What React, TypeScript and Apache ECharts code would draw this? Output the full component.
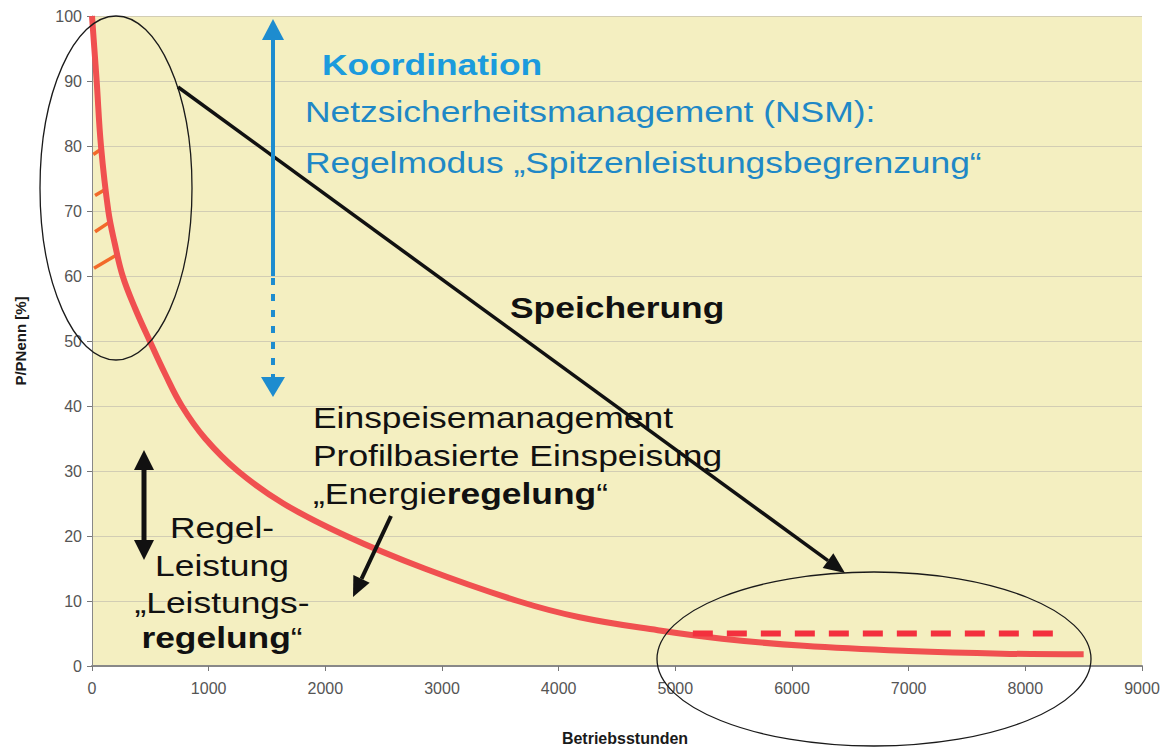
import React, { useEffect, useRef } from 'react';
import * as echarts from 'echarts';

// ---- data ----
const hours = [0, 20, 40, 77, 140, 195, 263, 370, 495, 625, 770, 970, 1250, 1640, 2180, 2850, 3650, 4180, 4850, 5400, 6100, 7000, 7800, 8500];
const share = [100, 95, 90, 80, 70, 65, 60, 55, 50, 45, 40, 35, 30, 25, 20, 15, 10, 7.5, 5.5, 4.2, 3.1, 2.3, 1.9, 1.8];
const dashedHours = [5150, 8330];
const dashedShare = [5, 5];
// short orange marks between the y axis and the curve (start, end)
const markHoursStart = [11, 26, 26, 17];
const markShareStart = [78.7, 72.4, 66.8, 61.2];
const markHoursEnd = [77, 131, 160, 217];
const markShareEnd = [79.5, 73.5, 68.4, 63.3];
const xMin = 0, xMax = 9000, xStep = 1000;
const yMin = 0, yMax = 100, yStep = 10;
const xName = 'Betriebsstunden';
const yName = 'P/PNenn [%]';

const FONT = "'Liberation Sans', Arial, Helvetica, sans-serif";
const SX = 1.18;

function arrowHead(fx: number, fy: number, tx: number, ty: number, len: number, hw: number) {
  const dx = tx - fx, dy = ty - fy;
  const l = Math.sqrt(dx * dx + dy * dy);
  const ux = dx / l, uy = dy / l;
  const nx = -uy, ny = ux;
  const bx = tx - ux * len, by = ty - uy * len;
  return {
    base: [bx, by],
    points: [[tx, ty], [bx + nx * hw, by + ny * hw], [bx - nx * hw, by - ny * hw]],
  };
}

function arrow(fx: number, fy: number, tx: number, ty: number, lw: number, len: number, hw: number, color: string) {
  const h = arrowHead(fx, fy, tx, ty, len, hw);
  return [
    { type: 'line', z: 100, shape: { x1: fx, y1: fy, x2: h.base[0], y2: h.base[1] }, style: { stroke: color, lineWidth: lw } },
    { type: 'polygon', z: 100, shape: { points: h.points }, style: { fill: color } },
  ];
}

function txt(x: number, y: number, text: string, opts: any = {}) {
  return {
    type: 'text',
    z: 100,
    x,
    y,
    scaleX: SX,
    style: {
      text,
      fontSize: 30,
      fontFamily: FONT,
      fontWeight: opts.bold ? 'bold' : 'normal',
      fill: opts.color || '#111',
      align: opts.align || 'left',
      textAlign: opts.align || 'left',
      verticalAlign: 'middle',
      textVerticalAlign: 'middle',
      rich: opts.rich,
    },
  };
}

export default function App() {
  const ref = useRef<HTMLDivElement>(null);
  useEffect(() => {
    document.body.style.margin = '0';
    if (!ref.current) return;
    const chart = echarts.init(ref.current, undefined, { renderer: 'svg' });

    const curve = hours.map((h, i) => [h, share[i]]);
    const dashed = dashedHours.map((h, i) => [h, dashedShare[i]]);
    const markSeries = markHoursStart.map((h, i) => ({
      type: 'line',
      data: [[h, markShareStart[i]], [markHoursEnd[i], markShareEnd[i]]],
      symbol: 'none',
      lineStyle: { color: '#f26a2a', width: 3.5 },
      z: 3,
    }));

    const rich = {
      n: { fontSize: 30, fontFamily: FONT, fill: '#111', fontWeight: 'normal' },
      b: { fontSize: 30, fontFamily: FONT, fill: '#111', fontWeight: 'bold' },
    };

    const blue = '#1d8ccf';
    const graphic: any[] = [
      { type: 'ellipse', z: 100, shape: { cx: 116, cy: 188, rx: 76, ry: 172 }, style: { fill: 'none', stroke: '#1a1a1a', lineWidth: 1.3 } },
      { type: 'ellipse', z: 100, shape: { cx: 874, cy: 659, rx: 217, ry: 87 }, style: { fill: 'none', stroke: '#1a1a1a', lineWidth: 1.3 } },
      ...arrow(178, 87, 845, 573, 3.5, 21, 9, '#111'),
      ...arrow(391, 516, 353, 597, 4, 20, 9, '#111'),
      // double arrow
      { type: 'line', z: 100, shape: { x1: 144, y1: 468, x2: 144, y2: 542 }, style: { stroke: '#111', lineWidth: 5 } },
      { type: 'polygon', z: 100, shape: { points: [[144, 450], [134, 470], [154, 470]] }, style: { fill: '#111' } },
      { type: 'polygon', z: 100, shape: { points: [[144, 560], [134, 540], [154, 540]] }, style: { fill: '#111' } },
      // blue arrow
      { type: 'line', z: 100, shape: { x1: 273, y1: 38, x2: 273, y2: 276 }, style: { stroke: blue, lineWidth: 4 } },
      { type: 'line', z: 100, shape: { x1: 273, y1: 278, x2: 273, y2: 378 }, style: { stroke: blue, lineWidth: 4, lineDash: [7, 9] } },
      { type: 'polygon', z: 100, shape: { points: [[273, 19], [262, 40], [284, 40]] }, style: { fill: blue } },
      { type: 'polygon', z: 100, shape: { points: [[273, 397], [261, 377], [285, 377]] }, style: { fill: blue } },
      // texts
      txt(322, 64.5, 'Koordination', { bold: true, color: '#1b9bdd' }),
      txt(305, 111.5, 'Netzsicherheitsmanagement (NSM):', { color: '#1f88c6' }),
      txt(305, 162.5, 'Regelmodus „Spitzenleistungsbegrenzung“', { color: '#1f88c6' }),
      txt(510, 307, 'Speicherung', { bold: true }),
      txt(313, 417.5, 'Einspeisemanagement'),
      txt(313, 455.5, 'Profilbasierte Einspeisung'),
      txt(313, 493.5, '{n|„Energie}{b|regelung}{n|“}', { rich }),
      txt(222, 527.5, 'Regel-', { align: 'center' }),
      txt(222, 565.5, 'Leistung', { align: 'center' }),
      txt(222, 602.5, '„Leistungs-', { align: 'center' }),
      txt(222, 637.5, '{b|regelung}{n|“}', { align: 'center', rich }),
    ];

    chart.setOption({
      animation: false,
      grid: {
        left: 92, right: 31, top: 16, bottom: 81,
        show: true, backgroundColor: '#f4efc1', borderWidth: 0,
      },
      xAxis: {
        type: 'value', min: xMin, max: xMax, interval: xStep,
        name: xName, nameLocation: 'middle', nameGap: 64,
        nameTextStyle: { fontFamily: FONT, fontSize: 16, fontWeight: 'bold', color: '#1a1a1a', padding: [0, 0, 0, 16] },
        axisLine: { lineStyle: { color: '#888', width: 2 } },
        axisTick: { show: true, length: 5, lineStyle: { color: '#777' } },
        axisLabel: { fontFamily: FONT, fontSize: 16, color: '#555', margin: 14, formatter: (v: number) => String(v) },
        splitLine: { show: false },
      },
      yAxis: {
        type: 'value', min: yMin, max: yMax, interval: yStep,
        name: yName, nameLocation: 'middle', nameGap: 64, nameRotate: 90,
        nameTextStyle: { fontFamily: FONT, fontSize: 15, fontWeight: 'bold', color: '#1a1a1a' },
        axisLine: { show: true, lineStyle: { color: '#888', width: 1 } },
        axisTick: { show: true, length: 5, lineStyle: { color: '#777' } },
        axisLabel: { fontFamily: FONT, fontSize: 16, color: '#555', margin: 10, formatter: (v: number) => String(v) },
        splitLine: { show: true, lineStyle: { color: '#d2cdb4', width: 1 } },
      },
      series: [
        {
          type: 'line', data: curve, smooth: 0.4, symbol: 'none',
          lineStyle: { color: '#f05050', width: 6 }, z: 4,
        },
        {
          type: 'line', data: dashed, symbol: 'none',
          lineStyle: { color: '#f3303e', width: 6, type: [20, 14] }, z: 4,
        },
        ...markSeries,
      ],
      graphic,
    });
    return () => chart.dispose();
  }, []);
  return <div ref={ref} style={{ width: 1173, height: 751 }} />;
}
